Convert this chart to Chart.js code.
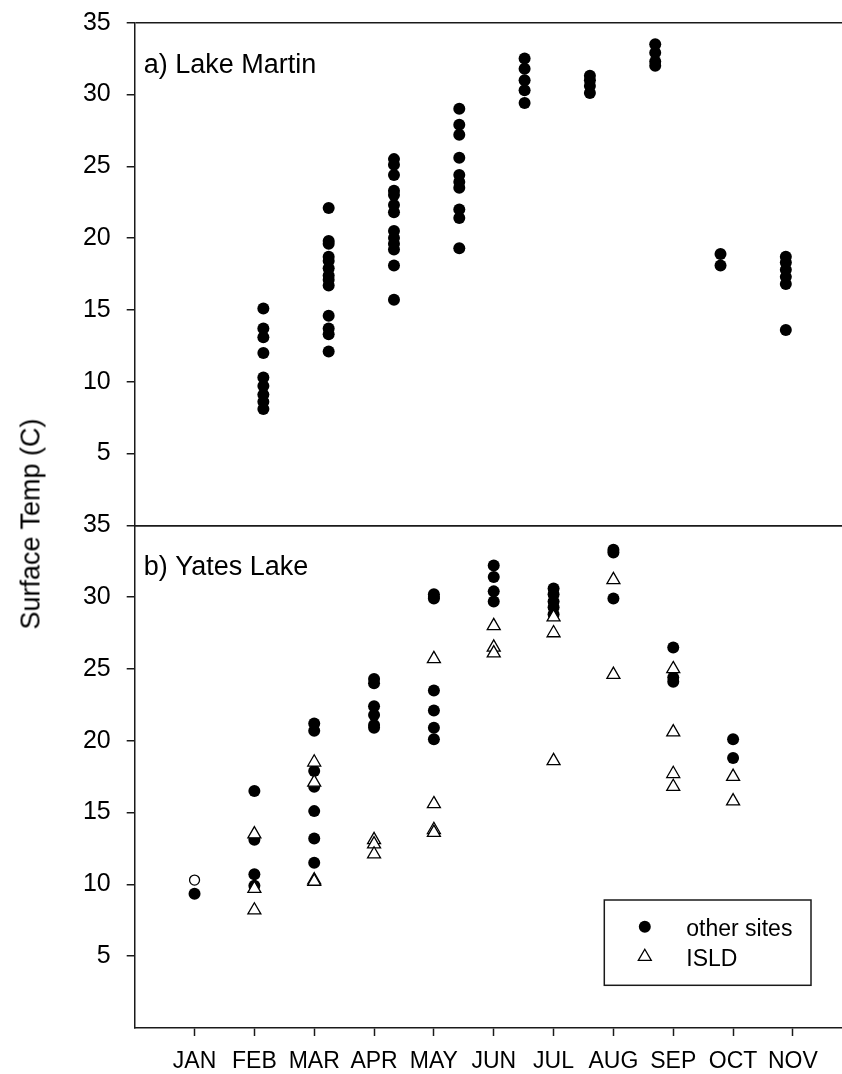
<!DOCTYPE html>
<html>
<head>
<meta charset="utf-8">
<title>Surface Temp - Lake Martin / Yates Lake</title>
<script src="https://cdn.jsdelivr.net/npm/chart.js@4.4.1/dist/chart.umd.min.js"></script>
<style>
  html, body { margin: 0; padding: 0; background: #fff; }
  body { width: 842px; height: 1074px; position: relative; overflow: hidden;
         font-family: "Liberation Sans", Arial, sans-serif; }
  #topWrap { position: absolute; left: 0; top: 0; }
  #botWrap { position: absolute; left: 0; top: 500px; }
  #ytitle { position: absolute; left: 31px; top: 524px; color: #000;
            font-size: 27px; white-space: nowrap;
            transform: translate(-50%, -50%) rotate(-90deg); }
</style>
</head>
<body>
<div id="topWrap"><canvas id="martinChart" width="842" height="540"></canvas></div>
<div id="botWrap"><canvas id="yatesChart" width="842" height="574"></canvas></div>
<div id="ytitle">Surface Temp (C)</div>

<script>
// ---- Data ----
const monthLabels = ['JAN','FEB','MAR','APR','MAY','JUN','JUL','AUG','SEP','OCT','NOV'];
const yTicks = [5, 10, 15, 20, 25, 30, 35];

// a) Lake Martin - columns on the top panel's own axis
const martinCols = [2, 3, 4, 5, 6, 7, 8, 9, 10];
const martinOther = [
  [15.1, 13.7, 13.1, 12.0, 10.3, 9.7, 9.1, 8.6, 8.1],
  [22.1, 19.8, 19.6, 18.7, 18.4, 17.9, 17.4, 17.1, 16.7, 14.6, 13.7, 13.3, 12.1],
  [25.5, 25.1, 24.4, 23.3, 23.0, 22.3, 21.8, 20.5, 20.0, 19.6, 19.2, 18.1, 15.7],
  [29.0, 27.9, 27.2, 25.6, 24.4, 23.9, 23.5, 22.0, 21.4, 19.3],
  [32.5, 31.8, 31.0, 30.3, 29.4],
  [31.3, 31.0, 30.6, 30.1],
  [33.5, 32.9, 32.3, 32.0],
  [18.9, 18.1],
  [18.7, 18.3, 17.8, 17.3, 16.8, 13.6]
];

// b) Yates Lake - JAN=1 ... OCT=10
const yatesMonths = [1, 2, 3, 4, 5, 6, 7, 8, 9, 10];
const yatesOther = [
  [9.35],
  [16.5, 13.1, 10.7, 9.9],
  [21.2, 20.7, 17.9, 16.8, 15.1, 13.2, 11.5],
  [24.3, 24.0, 22.4, 21.8, 21.1, 20.9],
  [30.2, 30.0, 29.9, 23.5, 22.1, 20.9, 20.1],
  [32.2, 31.4, 30.4, 29.7],
  [30.6, 30.2, 29.7, 29.3, 28.8],
  [33.3, 33.1, 29.9],
  [26.5, 24.4, 24.1],
  [20.1, 18.8]
];
const yatesISLD = [
  [],
  [13.5, 9.7, 8.2],
  [18.5, 17.1, 10.3, 10.2],
  [13.1, 12.8, 12.1],
  [25.7, 15.6, 13.8, 13.6],
  [28.0, 26.5, 26.1],
  [28.6, 27.5, 18.6],
  [31.2, 24.6],
  [25.0, 20.6, 17.7, 16.8],
  [17.5, 15.8]
];
const yatesJanOpen = [10.3]; // open circle in JAN

// ---- helpers ----
const INK = '#1a1a1a';
const FONT = '"Liberation Sans", Arial, sans-serif';
const toPoints = (cols, groups) => cols.flatMap((c, i) => groups[i].map(t => ({x: c, y: t})));
const noPad = s => { s.paddingTop = 0; s.paddingBottom = 0; s.paddingLeft = 0; s.paddingRight = 0; };

function yAxis() {
  return {
    type: 'linear', min: 0, max: 35,
    afterBuildTicks: s => { s.ticks = yTicks.map(v => ({value: v})); },
    afterFit: s => { s.width = 134.7; noPad(s); },
    ticks: { color: '#000', font: {family: FONT, size: 25}, padding: 16 },
    grid: {
      color: c => (c.tick && c.tick.value === 35) ? INK : 'rgba(0,0,0,0)',
      lineWidth: 1.5, tickLength: 8, tickColor: INK, tickWidth: 1.5
    },
    border: { display: true, color: INK, width: 1.5 }
  };
}

// panel label + legend plugins
const panelLabel = text => ({
  id: 'panelLabel',
  afterDraw(chart) {
    const ctx = chart.ctx, a = chart.chartArea;
    ctx.save();
    ctx.fillStyle = '#000';
    ctx.font = '27px ' + FONT;
    ctx.textBaseline = 'alphabetic';
    ctx.fillText(text, a.left + 9, a.top + 50);
    ctx.restore();
  }
});

const boxLegend = {
  id: 'boxLegend',
  afterDraw(chart) {
    const ctx = chart.ctx, a = chart.chartArea;
    const w = 206.7, h = 85.3;
    const x0 = a.right - 31 - w, y0 = a.bottom - 42.7 - h;
    ctx.save();
    ctx.strokeStyle = INK; ctx.lineWidth = 1.5;
    ctx.strokeRect(x0, y0, w, h);
    const items = chart.data.datasets.filter(d => d.inLegend).sort((p, q) => p.legendRank - q.legendRank);
    items.forEach((d, i) => {
      const cy = y0 + 26.7 + i * 30;
      ctx.fillStyle = d.backgroundColor; ctx.strokeStyle = d.borderColor; ctx.lineWidth = d.borderWidth;
      Chart.helpers.drawPoint(ctx, {pointStyle: d.pointStyle, radius: d.pointRadius, borderWidth: d.borderWidth, rotation: 0}, x0 + 40.5, cy);
      ctx.fillStyle = '#000';
      ctx.font = '23px ' + FONT;
      ctx.textBaseline = 'alphabetic';
      ctx.fillText(d.label, x0 + 82, cy + 9.5);
    });
    ctx.restore();
  }
};

// ---- a) Lake Martin ----
new Chart(document.getElementById('martinChart'), {
  type: 'scatter',
  data: {
    datasets: [{
      label: 'other sites',
      data: toPoints(martinCols, martinOther),
      pointStyle: 'circle', pointRadius: 6, borderWidth: 0,
      backgroundColor: '#000', borderColor: '#000'
    }]
  },
  options: {
    responsive: false, animation: false,
    layout: { autoPadding: false, padding: { top: 22.7, bottom: 14.7, left: 0, right: 0 } },
    plugins: { legend: { display: false }, tooltip: { enabled: false } },
    scales: {
      x: {
        type: 'linear', min: 0.03, max: 10.86,
        afterBuildTicks: s => { s.ticks = [1].concat(martinCols).map(v => ({value: v})); },
        afterFit: s => { s.height = 0; noPad(s); },
        ticks: { display: false },
        grid: { drawOnChartArea: false, drawTicks: false },
        border: { display: true, color: INK, width: 1.5 }
      },
      y: yAxis()
    }
  },
  plugins: [panelLabel('a) Lake Martin')]
});

// ---- b) Yates Lake ----
new Chart(document.getElementById('yatesChart'), {
  type: 'scatter',
  data: {
    datasets: [
      {
        label: 'ISLD', inLegend: true, legendRank: 1, order: 0,
        data: toPoints(yatesMonths, yatesISLD),
        pointStyle: 'triangle', pointRadius: 7.5, borderWidth: 1.3,
        backgroundColor: '#fff', borderColor: '#000'
      },
      {
        label: 'ISLD JAN', order: 0,
        data: yatesJanOpen.map(t => ({x: 1, y: t})),
        pointStyle: 'circle', pointRadius: 5, borderWidth: 1.3,
        backgroundColor: '#fff', borderColor: '#000'
      },
      {
        label: 'other sites', inLegend: true, legendRank: 0, order: 1,
        data: toPoints(yatesMonths, yatesOther),
        pointStyle: 'circle', pointRadius: 6, borderWidth: 0,
        backgroundColor: '#000', borderColor: '#000'
      }
    ]
  },
  options: {
    responsive: false, animation: false,
    layout: { autoPadding: false, padding: { top: 25.3, bottom: 0, left: 0, right: 0 } },
    plugins: { legend: { display: false }, tooltip: { enabled: false } },
    scales: {
      x: {
        type: 'linear', min: 0, max: 11.82,
        afterBuildTicks: s => { s.ticks = monthLabels.map((m, i) => ({value: i + 1})); },
        afterFit: s => { s.height = 46; noPad(s); },
        ticks: {
          color: '#000', font: {family: FONT, size: 23}, padding: 12, maxRotation: 0, autoSkip: false,
          callback: v => monthLabels[v - 1]
        },
        grid: { drawOnChartArea: false, tickLength: 8, tickColor: INK, tickWidth: 1.5 },
        border: { display: true, color: INK, width: 1.5 }
      },
      y: yAxis()
    }
  },
  plugins: [panelLabel('b) Yates Lake'), boxLegend]
});
</script>
</body>
</html>
